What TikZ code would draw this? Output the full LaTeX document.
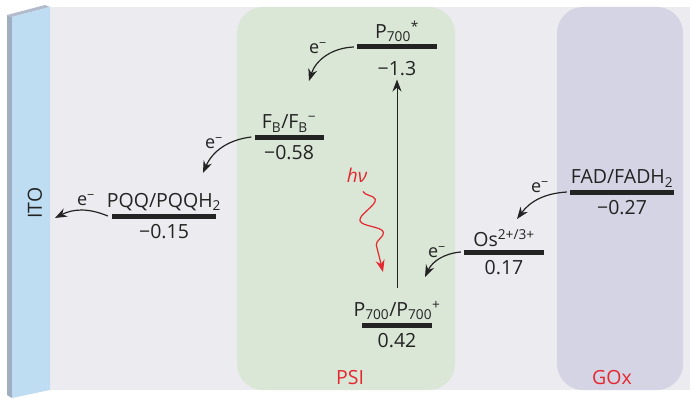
\documentclass[tikz,border=0pt]{standalone}
\usepackage{fontspec}
\setmainfont{Open Sans}
\usetikzlibrary{arrows.meta,positioning,decorations.pathmorphing}

\definecolor{bggray}{RGB}{236,236,240}
\definecolor{psigreen}{RGB}{218,230,214}
\definecolor{goxblue}{RGB}{212,212,228}
\definecolor{itofront}{RGB}{190,221,242}
\definecolor{itoside}{RGB}{160,174,194}
\definecolor{itotop}{RGB}{178,188,204}
\definecolor{txtred}{RGB}{228,40,48}
\definecolor{ink}{RGB}{35,35,35}

\tikzset{
    level/.style={fill=ink, draw=none, inner sep=0pt, minimum height=5pt},
    lbl/.style={font=\fontsize{19.5}{23}\selectfont, text=ink, inner sep=1pt},
    etrans/.style={-{Stealth[length=12pt,width=9pt]}, line width=1.2pt, ink},
    elbl/.style={lbl, font=\fontsize{18}{21}\selectfont}
}

\begin{document}
\begin{tikzpicture}[x=1pt,y=1pt]

        \useasboundingbox (0,0) rectangle (692,-404);

        % backdrop and the two protein boxes
        \fill[bggray] (50,-7) rectangle (690,-390);
        \fill[psigreen, rounded corners=26pt] (237,-7) rectangle (455,-390);
        \fill[goxblue, rounded corners=26pt] (557,-7) rectangle (683,-390);
        \node[lbl, text=txtred] (psi) at (350,-378) {PSI};
        \node[lbl, text=txtred] (gox) at (612,-378) {GOx};

        % ITO electrode
        \fill[itoside] (7,-15) -- (12,-17) -- (12,-398) -- (7,-395) -- cycle;
        \fill[itotop] (7,-15) -- (45,-5) -- (50,-7) -- (12,-17) -- cycle;
        \fill[itofront] (12,-17) -- (50,-7) -- (50,-390) -- (12,-398) -- cycle;
        \node[lbl, rotate=90] (ito) at (35,-203) {ITO};
        \coordinate (itoin) at (55,-218);

        % energy levels: bar, name above, potential below
        \foreach \nm/\x/\y/\w/\gp/\tx/\vl in {
            pexc/397/47/80/10/{P\textsubscript{700}\textsuperscript{*}}/{−1.3},
            fb/289/137/69/4/{F\textsubscript{B}/F\textsubscript{B}\textsuperscript{−}}/{−0.58},
            pqq/164/216/104/4/{PQQ/PQQH\textsubscript{2}}/{−0.15},
            pgr/397/325/70/4/{P\textsubscript{700}/P\textsubscript{700}\textsuperscript{+}}/{0.42},
            os/504/252/80/4/{Os\textsuperscript{2+/3+}}/{0.17},
            fad/622/192/104/4/{FAD/FADH\textsubscript{2}}/{−0.27}} {
            \node[level, minimum width=\w pt] (\nm) at (\x,-\y) {};
            \node[lbl, above=1pt of \nm] (\nm top) {\tx};
            \node[lbl, below=\gp pt of \nm] (\nm val) {\vl};
        }

        % arrow heads that stop short of the next level
        \coordinate (fbin) at (309,-81);
        \coordinate (pqqin) at (203,-173);
        \coordinate (osin) at (517,-219);
        \coordinate (pgrin) at (425,-277);

        % electron transfer
        \draw[etrans] ([xshift=-3pt]pexc.west) to[bend right=35] (fbin);
        \node[elbl] (e1) at (318,-48) {e\textsuperscript{−}};
        \draw[etrans] ([xshift=-3pt]fb.west) to[bend right=30] (pqqin);
        \node[elbl] (e2) at (214,-143) {e\textsuperscript{−}};
        \draw[etrans] ([xshift=-4pt]pqq.west) to[bend right=25] (itoin);
        \node[elbl] (e3) at (86,-200) {e\textsuperscript{−}};
        \draw[etrans] ([xshift=-3pt]fad.west) to[bend right=25] (osin);
        \node[elbl] (e4) at (540,-187) {e\textsuperscript{−}};
        \draw[etrans] ([xshift=-3pt]os.west) to[bend right=30] (pgrin);
        \node[elbl] (e5) at (437,-252) {e\textsuperscript{−}};

        % excitation
        \draw[etrans, line width=1pt, shorten <=12pt, shorten >=3pt] (pgrtop.north) -- (pexcval.south);
        \node[lbl, text=txtred, font=\fontsize{19}{22}\selectfont\itshape] (hv) at (357,-175) {hν};
        \coordinate (hvin) at (383,-272);
        \draw[txtred, line width=1.2pt, -{Stealth[length=12pt,width=9pt]},
              decorate, decoration={snake, amplitude=10pt, segment length=34pt, post length=18pt}]
              ([xshift=6pt,yshift=-8pt]hv.south) -- (hvin);

    \end{tikzpicture}
\end{document}
